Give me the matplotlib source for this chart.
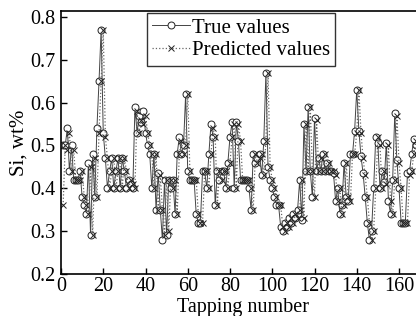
import matplotlib
matplotlib.use('Agg')
import matplotlib.pyplot as plt

plt.rcParams['font.family'] = ['Liberation Serif', 'DejaVu Serif']

# Si content, tapping 1..168
true_values = [0.50, 0.50, 0.54, 0.44, 0.50, 0.42, 0.42, 0.42, 0.44, 0.38,
               0.36, 0.34, 0.46, 0.29, 0.48, 0.38, 0.54, 0.65, 0.77, 0.53,
               0.47, 0.40, 0.44, 0.47, 0.40, 0.44, 0.47, 0.40, 0.47, 0.44,
               0.40, 0.42, 0.41, 0.40, 0.59, 0.53, 0.57, 0.555, 0.58, 0.53,
               0.50, 0.48, 0.40, 0.48, 0.35, 0.435, 0.35, 0.28, 0.42, 0.29,
               0.42, 0.40, 0.42, 0.34, 0.48, 0.52, 0.48, 0.50, 0.62, 0.44,
               0.42, 0.42, 0.42, 0.34, 0.32, 0.32, 0.44, 0.44, 0.40, 0.48,
               0.55, 0.52, 0.36, 0.44, 0.42, 0.44, 0.44, 0.40, 0.46, 0.52,
               0.555, 0.40, 0.555, 0.51, 0.42, 0.42, 0.42, 0.42, 0.40, 0.35,
               0.48, 0.46, 0.47, 0.48, 0.43, 0.51, 0.67, 0.45, 0.42, 0.40,
               0.38, 0.36, 0.36, 0.31, 0.30, 0.32, 0.31, 0.33, 0.32, 0.34,
               0.33, 0.35, 0.42, 0.325, 0.55, 0.44, 0.59, 0.44, 0.38, 0.565,
               0.44, 0.47, 0.44, 0.48, 0.44, 0.46, 0.44, 0.44, 0.435, 0.37,
               0.40, 0.34, 0.36, 0.46, 0.38, 0.37, 0.48, 0.48, 0.535, 0.63,
               0.535, 0.475, 0.435, 0.38, 0.32, 0.28, 0.30, 0.40, 0.52, 0.505,
               0.40, 0.44, 0.415, 0.505, 0.37, 0.34, 0.42, 0.575, 0.465, 0.40,
               0.32, 0.32, 0.32, 0.435, 0.44, 0.48, 0.515, 0.50]

predicted_values = [0.36, 0.50, 0.49, 0.53, 0.44, 0.49, 0.42, 0.42, 0.42, 0.44,
                    0.38, 0.36, 0.34, 0.45, 0.29, 0.47, 0.38, 0.53, 0.65, 0.77,
                    0.52, 0.47, 0.40, 0.44, 0.47, 0.40, 0.44, 0.47, 0.40, 0.47,
                    0.44, 0.40, 0.42, 0.41, 0.40, 0.58, 0.53, 0.56, 0.55, 0.57,
                    0.53, 0.50, 0.48, 0.40, 0.48, 0.35, 0.43, 0.35, 0.29, 0.42,
                    0.30, 0.42, 0.40, 0.42, 0.34, 0.48, 0.51, 0.48, 0.50, 0.62,
                    0.44, 0.42, 0.42, 0.42, 0.34, 0.32, 0.32, 0.44, 0.44, 0.40,
                    0.48, 0.54, 0.52, 0.36, 0.44, 0.42, 0.44, 0.44, 0.40, 0.46,
                    0.52, 0.55, 0.40, 0.55, 0.51, 0.42, 0.42, 0.42, 0.42, 0.40,
                    0.35, 0.48, 0.46, 0.47, 0.48, 0.43, 0.51, 0.67, 0.45, 0.42,
                    0.40, 0.38, 0.36, 0.36, 0.31, 0.30, 0.32, 0.31, 0.33, 0.32,
                    0.34, 0.33, 0.35, 0.42, 0.33, 0.55, 0.44, 0.59, 0.44, 0.38,
                    0.56, 0.44, 0.47, 0.44, 0.48, 0.44, 0.46, 0.44, 0.44, 0.43,
                    0.37, 0.40, 0.34, 0.36, 0.46, 0.38, 0.37, 0.48, 0.48, 0.53,
                    0.63, 0.53, 0.47, 0.43, 0.38, 0.32, 0.28, 0.30, 0.40, 0.52,
                    0.50, 0.40, 0.44, 0.41, 0.50, 0.37, 0.34, 0.42, 0.57, 0.46,
                    0.40, 0.32, 0.32, 0.32, 0.43, 0.44, 0.48, 0.51]

tapping = list(range(1, len(true_values) + 1))
xticks = [0, 20, 40, 60, 80, 100, 120, 140, 160]
yticks = [0.2, 0.3, 0.4, 0.5, 0.6, 0.7, 0.8]

W, H = 416, 316
fig = plt.figure(figsize=(W / 100, H / 100), dpi=100)

# axes runs past the right edge of the picture (the original is cropped)
px_per_unit = 2.1125
x_max = 185
left_px, bottom_px, top_px = 61, 274, 11
ax = fig.add_axes([left_px / W, 1 - bottom_px / H,
                   x_max * px_per_unit / W, (bottom_px - top_px) / H])

ax.plot(tapping, true_values, '-', color='#444444', lw=0.7,
        marker='o', ms=5, mfc='white', mec='#222222', mew=0.7,
        label='True values')
ax.plot(tapping, predicted_values, ':', color='#666666', lw=0.9,
        marker='x', ms=5, mec='#222222', mew=0.7,
        label='Predicted values')

ax.set_xlim(0, x_max)
ax.set_ylim(0.2, 0.814)
ax.set_xticks(xticks)
ax.set_yticks(yticks)
ax.set_yticklabels([f'{v:.1f}' for v in yticks])
ax.tick_params(direction='in', length=4, width=1, labelsize=14.5)
ax.tick_params(axis='y', pad=4)
ax.tick_params(axis='x', pad=2)
for s in ax.spines.values():
    s.set_linewidth(1.2)

ax.set_ylabel('Si, wt%', fontsize=15, labelpad=1)
ax.set_xlabel('Tapping number', fontsize=14.5)
ax.xaxis.set_label_coords((243 - left_px) / (x_max * px_per_unit), -0.09)

leg = ax.legend(loc='upper left', bbox_to_anchor=(147 / W, 1 - 13 / H),
                bbox_transform=fig.transFigure, fontsize=15, frameon=True,
                fancybox=False, borderaxespad=0, handlelength=1.8,
                handletextpad=0.1, borderpad=0.25, labelspacing=0.15)
leg.get_frame().set_edgecolor('black')
leg.get_frame().set_linewidth(1.0)

fig.savefig('out.png', dpi=100)
